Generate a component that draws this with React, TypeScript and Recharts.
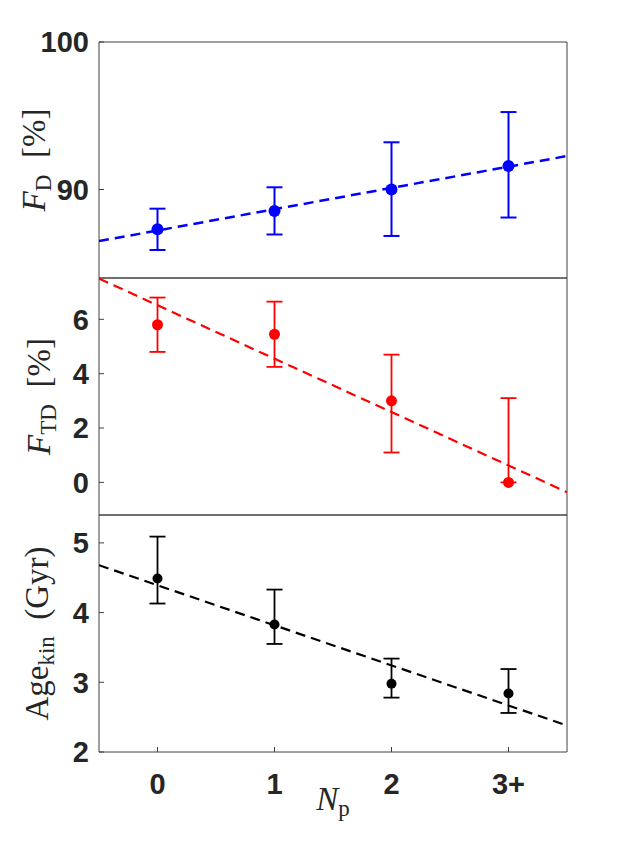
import { ScatterChart, Scatter, XAxis, YAxis, ErrorBar } from "recharts";

// number of planets (x) and its tick labels
const np = [0, 1, 2, 3];
const npLabels = ["0", "1", "2", "3+"];

// F_D [%]
const fD = [87.3, 88.55, 90.0, 91.6];
const fDLo = [85.9, 86.95, 86.85, 88.1];
const fDHi = [88.7, 90.15, 93.2, 95.25];

// F_TD [%]
const fTD = [5.8, 5.45, 3.0, 0.0];
const fTDLo = [4.8, 4.25, 1.1, 0.0];
const fTDHi = [6.8, 6.65, 4.7, 3.1];

// Age_kin (Gyr)
const age = [4.49, 3.83, 2.98, 2.84];
const ageLo = [4.13, 3.55, 2.78, 2.56];
const ageHi = [5.09, 4.33, 3.34, 3.19];

// linear fits, end points at the x limits
const fitX = [-0.5, 3.5];
const fitFD = [86.5, 92.27];
const fitFTD = [7.5, -0.36];
const fitAge = [4.68, 2.38];

const AXIS = "#404040";
const TICK = {
  fill: "#262626",
  fontSize: 29,
  fontWeight: 700,
  fontFamily: "Liberation Sans, Arial, sans-serif",
};
const SERIF = "Liberation Serif, Times New Roman, serif";
const PAD = 20;

const toPoints = (v, lo, hi) =>
  np.map((x, i) => ({ x, y: v[i], err: [v[i] - lo[i], hi[i] - v[i]] }));
const toFit = (v) => fitX.map((x, i) => ({ x, y: v[i] }));

const YTitle = ({ viewBox, x0, main, sub, rest, italic = true }) => {
  const cy = viewBox.y + viewBox.height / 2;
  return (
    <text
      x={x0}
      y={cy}
      transform={`rotate(-90 ${x0} ${cy})`}
      textAnchor="middle"
      fontFamily={SERIF}
      fontSize={33}
      fill="#262626"
    >
      <tspan fontStyle={italic ? "italic" : "normal"}>{main}</tspan>
      <tspan fontSize={23} dy={6}>
        {sub}
      </tspan>
      <tspan dy={-6}>{rest}</tspan>
    </text>
  );
};

const Panel = ({
  top,
  plotH,
  bottomH,
  domain,
  yTicks,
  points,
  fit,
  color,
  r,
  lineW,
  barW,
  title,
  showX,
}) => (
  <div style={{ position: "absolute", left: 0, top: top - PAD }}>
    <ScatterChart
      width={623}
      height={PAD + plotH + bottomH}
      margin={{ top: PAD, right: 56, bottom: 0, left: 0 }}
    >
      <XAxis
        xAxisId="b"
        type="number"
        dataKey="x"
        domain={[-0.5, 3.5]}
        ticks={np}
        interval={0}
        allowDataOverflow
        height={bottomH}
        stroke={AXIS}
        tickSize={-5}
        tickMargin={26}
        tick={showX ? TICK : false}
        tickFormatter={(v) => npLabels[np.indexOf(v)]}
        label={
          showX
            ? {
                content: (p) => (
                  <text
                    x={p.viewBox.x + p.viewBox.width / 2}
                    y={p.viewBox.y + 58}
                    textAnchor="middle"
                    fontFamily={SERIF}
                    fontSize={33}
                    fill="#262626"
                  >
                    <tspan fontStyle="italic">N</tspan>
                    <tspan fontSize={23} dy={6}>
                      p
                    </tspan>
                  </text>
                ),
              }
            : undefined
        }
      />
      <XAxis
        xAxisId="t"
        orientation="top"
        type="number"
        dataKey="x"
        domain={[-0.5, 3.5]}
        ticks={np}
        allowDataOverflow
        mirror
        stroke={AXIS}
        tickSize={5}
        tick={false}
      />
      <YAxis
        yAxisId="l"
        type="number"
        dataKey="y"
        domain={domain}
        ticks={yTicks}
        interval={0}
        allowDataOverflow
        width={99}
        stroke={AXIS}
        tickSize={-5}
        tickMargin={15}
        tick={TICK}
        label={{ content: (p) => <YTitle viewBox={p.viewBox} {...title} /> }}
      />
      <YAxis
        yAxisId="r"
        orientation="right"
        type="number"
        dataKey="y"
        domain={domain}
        ticks={yTicks}
        allowDataOverflow
        mirror
        stroke={AXIS}
        tickSize={5}
        tick={false}
      />
      <Scatter
        xAxisId="b"
        yAxisId="l"
        data={fit}
        line={{ stroke: color, strokeWidth: lineW, strokeDasharray: "10 6" }}
        shape={() => <g />}
        isAnimationActive={false}
      />
      <Scatter
        xAxisId="b"
        yAxisId="l"
        data={points}
        fill={color}
        shape={(p) => <circle cx={p.cx} cy={p.cy} r={r} fill={color} />}
        isAnimationActive={false}
      >
        <ErrorBar
          dataKey="err"
          direction="y"
          width={8}
          stroke={color}
          strokeWidth={barW}
          isAnimationActive={false}
        />
      </Scatter>
    </ScatterChart>
  </div>
);

export default function App() {
  return (
    <div
      style={{
        position: "absolute",
        left: 0,
        top: 0,
        width: 623,
        height: 845,
        background: "#fff",
      }}
    >
      <Panel
        top={42}
        plotH={236}
        bottomH={2}
        domain={[84, 100]}
        yTicks={[90, 100]}
        points={toPoints(fD, fDLo, fDHi)}
        fit={toFit(fitFD)}
        color="#0000ff"
        r={6}
        lineW={2.5}
        barW={2}
        title={{ x0: 45, main: "F", sub: "D", rest: "\u2002[%]" }}
        showX={false}
      />
      <Panel
        top={278}
        plotH={237}
        bottomH={2}
        domain={[-1.2, 7.52]}
        yTicks={[0, 2, 4, 6]}
        points={toPoints(fTD, fTDLo, fTDHi)}
        fit={toFit(fitFTD)}
        color="#ff0000"
        r={5.5}
        lineW={2.2}
        barW={1.8}
        title={{ x0: 50, main: "F", sub: "TD", rest: "\u2002[%]" }}
        showX={false}
      />
      <Panel
        top={515}
        plotH={237}
        bottomH={90}
        domain={[2, 5.4]}
        yTicks={[2, 3, 4, 5]}
        points={toPoints(age, ageLo, ageHi)}
        fit={toFit(fitAge)}
        color="#000000"
        r={5}
        lineW={2.2}
        barW={1.8}
        title={{ x0: 48, main: "Age", sub: "kin", rest: "\u2002(Gyr)", italic: false }}
        showX
      />
    </div>
  );
}
